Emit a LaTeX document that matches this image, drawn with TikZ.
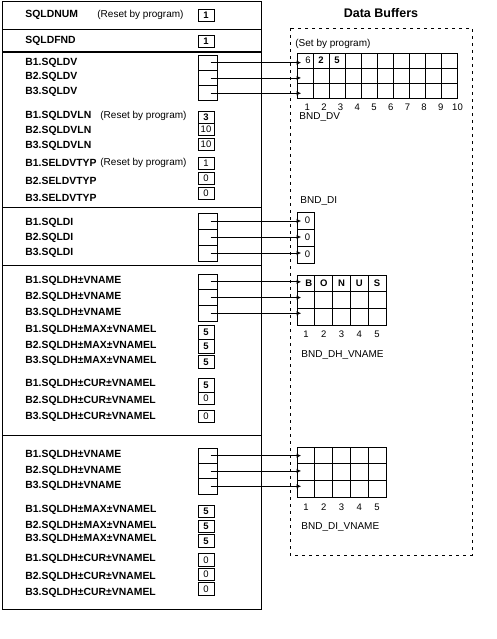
\documentclass[tikz,border=0pt]{standalone}
\usepackage{fontspec}
\setmainfont{Liberation Sans}
\usetikzlibrary{arrows.meta,positioning}

\begin{document}
\begin{tikzpicture}[x=1pt,y=-1pt,line width=0.8pt,
  field/.style={anchor=west,inner sep=0pt,font=\bfseries\fontsize{10.4}{12}\selectfont},
  note/.style={anchor=west,inner sep=0pt,font=\fontsize{10}{12}\selectfont},
  val/.style={draw,minimum width=16pt,minimum height=12pt,inner sep=0pt,
    font=\fontsize{9.5}{10}\selectfont},
  bval/.style={val,font=\bfseries\fontsize{9.5}{10}\selectfont},
  ptr/.style={draw,minimum width=19pt,inner sep=0pt},
  cell/.style={draw,inner sep=0pt},
  num/.style={inner sep=0pt,font=\fontsize{9.5}{11}\selectfont},
  arr/.style={-{Latex[length=4.5pt,width=4.5pt]},shorten <=3pt,shorten >=-4.5pt}
]
\useasboundingbox (0,0) rectangle (496,639);

% descriptor area
\draw (2,1) rectangle (261,609);
\draw (2,29) -- (261,29);
\draw[line width=1.8pt] (2,52) -- (261,52);
\draw (2,207) -- (261,207);
\draw (2,265) -- (261,265);
\draw (2,435) -- (261,435);

\node[field] (sqldnum) at (25,15) {SQLDNUM};
\node[note] (rst1) at (97,15) {(Reset by program)};
\node[bval] (vnum) at (206,15) {1};
\node[field] (sqldfnd) at (25,41) {SQLDFND};
\node[bval] (vfnd) at (206,41.5) {1};

% SQLDV
\foreach \r in {1,2,3} {
  \node[field] (ldv\r) at (25,{48+14.6*\r}) {B\r.SQLDV};
  \node[ptr,minimum height=15.3pt] (pdv\r) at (207.5,{55+15.3*(\r-0.5)}) {};
}
\node[field] (lvln1) at (25,116) {B1.SQLDVLN};
\node[note] (rst2) at (100,116) {(Reset by program)};
\node[field] (lvln2) at (25,131) {B2.SQLDVLN};
\node[field] (lvln3) at (25,145.5) {B3.SQLDVLN};
\node[bval] (vln1) at (206,117) {3};
\node[val] (vln2) at (206,129) {10};
\node[val] (vln3) at (206,144.5) {10};

\node[field] (ltyp1) at (25,163) {B1.SELDVTYP};
\node[note] (rst3) at (100,163) {(Reset by program)};
\node[field] (ltyp2) at (25,181) {B2.SELDVTYP};
\node[field] (ltyp3) at (25,197.5) {B3.SELDVTYP};
\node[val] (vtyp1) at (206,163) {1};
\node[val] (vtyp2) at (206,178) {0};
\node[val] (vtyp3) at (206,193.5) {0};

% SQLDI
\foreach \r in {1,2,3} {
  \node[field] (ldi\r) at (25,{207.5+15*\r}) {B\r.SQLDI};
  \node[ptr,minimum height=16pt] (pdi\r) at (207.5,{213+16*(\r-0.5)}) {};
}

% SQLDH-VNAME, first set
\foreach \r in {1,2,3} {
  \node[field] (ldh\r) at (25,{265.5+15.7*\r}) {B\r.SQLDH\textpm VNAME};
  \node[ptr,minimum height=15.7pt] (pdh\r) at (207.5,{274+15.7*(\r-0.5)}) {};
}
\node[field] (lmx1) at (25,330) {B1.SQLDH\textpm MAX\textpm VNAMEL};
\node[field] (lmx2) at (25,346) {B2.SQLDH\textpm MAX\textpm VNAMEL};
\node[field] (lmx3) at (25,361) {B3.SQLDH\textpm MAX\textpm VNAMEL};
\node[bval,minimum height=14pt] (vmx1) at (206,332) {5};
\node[bval,minimum height=14pt] (vmx2) at (206,346.5) {5};
\node[bval,minimum height=13pt] (vmx3) at (206,362) {5};
\node[field] (lcr1) at (25,384) {B1.SQLDH\textpm CUR\textpm VNAMEL};
\node[field] (lcr2) at (25,401) {B2.SQLDH\textpm CUR\textpm VNAMEL};
\node[field] (lcr3) at (25,417) {B3.SQLDH\textpm CUR\textpm VNAMEL};
\node[bval,minimum height=14pt] (vcr1) at (206,385.5) {5};
\node[val] (vcr2) at (206,398.5) {0};
\node[val] (vcr3) at (206,416) {0};

% SQLDH-VNAME, second set
\foreach \r in {1,2,3} {
  \node[field] (lin\r) at (25,{439.5+15.5*\r}) {B\r.SQLDH\textpm VNAME};
  \node[ptr,minimum height=15.3pt] (pin\r) at (207.5,{448+15.3*(\r-0.5)}) {};
}
\node[field] (lix1) at (25,510) {B1.SQLDH\textpm MAX\textpm VNAMEL};
\node[field] (lix2) at (25,526) {B2.SQLDH\textpm MAX\textpm VNAMEL};
\node[field] (lix3) at (25,539) {B3.SQLDH\textpm MAX\textpm VNAMEL};
\node[bval] (vix1) at (206,511.5) {5};
\node[bval] (vix2) at (206,526) {5};
\node[bval,minimum height=13pt] (vix3) at (206,541) {5};
\node[field] (lic1) at (25,559) {B1.SQLDH\textpm CUR\textpm VNAMEL};
\node[field] (lic2) at (25,577) {B2.SQLDH\textpm CUR\textpm VNAMEL};
\node[field] (lic3) at (25,593) {B3.SQLDH\textpm CUR\textpm VNAMEL};
\node[val,minimum height=13pt] (vic1) at (206,560) {0};
\node[val] (vic2) at (206,574) {0};
\node[val,minimum height=13pt] (vic3) at (206,589) {0};

% data buffers
\node[font=\bfseries\fontsize{12.5}{14}\selectfont] (title) at (381,13) {Data Buffers};
\draw[dash pattern=on 3pt off 4pt] (290,28) rectangle (472,555);
\node[note] (setby) at (295,44) {(Set by program)};

% BND_DV
\foreach \c in {1,...,10}
  \foreach \r in {1,2,3}
    \node[cell,minimum width=16pt,minimum height=15.3pt] (dv-\c-\r)
      at ({297+16*(\c-0.5)},{53+15.3*(\r-0.5)}) {};
\node[num] (dvv1) at ([xshift=3pt]dv-1-1.center) {6};
\node[num,font=\bfseries\fontsize{9.5}{11}\selectfont] (dvv2) at (dv-2-1) {2};
\node[num,font=\bfseries\fontsize{9.5}{11}\selectfont] (dvv3) at (dv-3-1) {5};
\foreach \c in {1,...,10}
  \node[num] (dvn-\c) at ({290.5+16.7*\c},107) {\c};
\node[note] (bnddv) at (299,117) {BND\_DV};

% BND_DI
\node[note] (bnddi) at (300,201) {BND\_DI};
\foreach \r in {1,2,3} {
  \node[cell,minimum width=17pt,minimum height=17pt] (di-\r) at (305.5,{212+17*(\r-0.5)}) {};
  \node[num] (div\r) at ([xshift=2pt]di-\r.center) {0};
}

% BND_DH_VNAME
\foreach \c in {1,...,5}
  \foreach \r in {1,2,3}
    \node[cell,minimum width=17.8pt,minimum height=16.7pt] (dh-\c-\r)
      at ({297+17.8*(\c-0.5)},{275+16.7*(\r-0.5)}) {};
\foreach \c/\t in {1/B,2/O,3/N,4/U,5/S}
  \node[num,font=\bfseries\fontsize{9.5}{11}\selectfont] (dhv\c)
    at ([xshift={\c==1 ? 3 : 0}]dh-\c-1.center) {\t};
\foreach \c in {1,...,5}
  \node[num] (dhn-\c) at ({297+17.8*(\c-0.5)},334) {\c};
\node[note] (bnddh) at (301,355) {BND\_DH\_VNAME};

% BND_DI_VNAME
\foreach \c in {1,...,5}
  \foreach \r in {1,2,3}
    \node[cell,minimum width=17.8pt,minimum height=16.7pt] (dn-\c-\r)
      at ({297+17.8*(\c-0.5)},{447+16.7*(\r-0.5)}) {};
\foreach \c in {1,...,5}
  \node[num] (dnn-\c) at ({297+17.8*(\c-0.5)},507) {\c};
\node[note] (bnddn) at (301,527) {BND\_DI\_VNAME};

% pointers
\foreach \r in {1,2,3} {
  \draw[arr] (pdv\r.center) -- (pdv\r.center -| dv-1-\r.west);
  \draw[arr] (pdi\r.center) -- (pdi\r.center -| di-\r.west);
  \draw[arr] (pdh\r.center) -- (pdh\r.center -| dh-1-\r.west);
  \draw[arr] (pin\r.center) -- (pin\r.center -| dn-1-\r.west);
}
\end{tikzpicture}
\end{document}
